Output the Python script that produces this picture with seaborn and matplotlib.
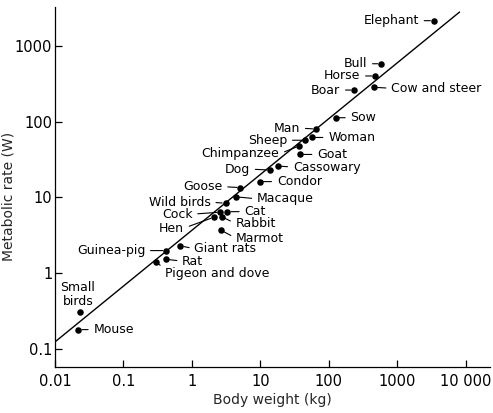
import matplotlib
matplotlib.use("Agg")
import matplotlib.pyplot as plt
import seaborn as sns
import pandas as pd

# --- Data ---
animals = ["Mouse", "Small birds", "Pigeon and dove", "Rat", "Guinea-pig",
           "Giant rats", "Hen", "Cock", "Rabbit", "Marmot", "Cat", "Wild birds",
           "Macaque", "Goose", "Condor", "Dog", "Cassowary", "Chimpanzee",
           "Goat", "Sheep", "Woman", "Man", "Sow", "Boar", "Cow and steer",
           "Horse", "Bull", "Elephant"]
body_weight = [0.022, 0.023, 0.30, 0.42, 0.42,
               0.68, 2.1, 2.6, 2.7, 2.65, 3.3, 3.1,
               4.4, 5.1, 9.8, 13.8, 18, 37,
               38, 45, 57, 65, 125, 234, 459,
               475, 580, 3410]
metabolic_rate = [0.18, 0.31, 1.39, 1.53, 1.99,
                  2.3, 5.5, 6.4, 5.6, 3.7, 6.5, 8.4,
                  10.2, 13.5, 16.2, 23, 26, 48,
                  37, 57, 62, 80, 113, 262, 285,
                  402, 583, 2160]
fit_weight = [0.01, 8100]
fit_rate = [0.124, 2810]

x_ticks = [0.01, 0.1, 1, 10, 100, 1000, 10000]
x_tick_labels = ["0.01", "0.1", "1", "10", "100", "1000", "10 000"]
y_ticks = [0.1, 1, 10, 100, 1000]
y_tick_labels = ["0.1", "1", "10", "100", "1000"]

# label placement: (dx, dy) in pixels from the dot, side of text, leader line
label_layout = {
    "Elephant": (-15, 0, "r", True),
    "Bull": (-14, 0, "r", True),
    "Horse": (-15, 0, "r", True),
    "Boar": (-14, 0, "r", True),
    "Cow and steer": (17, -1, "l", True),
    "Sow": (15, 0, "l", True),
    "Man": (-16, 1, "r", True),
    "Woman": (16, 0, "l", True),
    "Sheep": (-18, 0, "r", True),
    "Chimpanzee": (-20, -8, "r", True),
    "Goat": (17, 0, "l", True),
    "Cassowary": (15, -1, "l", True),
    "Dog": (-20, 1, "r", True),
    "Condor": (17, 0, "l", True),
    "Goose": (-18, 1, "r", True),
    "Macaque": (21, -2, "l", True),
    "Wild birds": (-15, 1, "r", True),
    "Cat": (17, 0, "l", True),
    "Cock": (-28, -2, "r", True),
    "Hen": (-30, -11, "r", True),
    "Rabbit": (14, -7, "l", True),
    "Marmot": (15, -8, "l", True),
    "Giant rats": (14, -3, "l", True),
    "Guinea-pig": (-21, 0, "r", True),
    "Rat": (16, -2, "l", True),
    "Pigeon and dove": (9, -11, "l", True),
    "Mouse": (15, 0, "l", True),
    "Small birds": (-2, 17, "c", False),
}
label_text = {"Small birds": "Small\nbirds"}

df = pd.DataFrame({"animal": animals, "weight": body_weight, "rate": metabolic_rate})
fit = pd.DataFrame({"weight": fit_weight, "rate": fit_rate})

sns.set_style("ticks")
plt.rcParams["font.family"] = ["DejaVu Sans"]

fig = plt.figure(figsize=(4.93, 4.13), dpi=100)
ax = fig.add_axes([0.1116, 0.1114, 0.882, 0.8717])

sns.lineplot(data=fit, x="weight", y="rate", ax=ax, color="black", lw=1.0)
sns.scatterplot(data=df, x="weight", y="rate", ax=ax, color="black",
                s=22, edgecolor="black", linewidth=0, zorder=3)

ax.set_xscale("log")
ax.set_yscale("log")
ax.set_xlim(0.01, 22400)
ax.set_ylim(0.0578, 3275)

for name, w, r in zip(animals, body_weight, metabolic_rate):
    dx, dy, side, leader = label_layout[name]
    ha = {"r": "right", "l": "left", "c": "center"}[side]
    relpos = {"r": (1, 0.5), "l": (0, 0.5), "c": (0.5, 0.5)}[side]
    if name == "Pigeon and dove":
        relpos = (0, 0.85)
    arrow = dict(arrowstyle="-", color="black", lw=0.8, shrinkA=1.5,
                 shrinkB=2.5, relpos=relpos) if leader else None
    ax.annotate(label_text.get(name, name), xy=(w, r), xytext=(dx, dy),
                textcoords="offset pixels", ha=ha, va="center", fontsize=9,
                color="black", arrowprops=arrow, linespacing=1.05)

ax.set_xticks(x_ticks)
ax.set_xticklabels(x_tick_labels)
ax.set_yticks(y_ticks)
ax.set_yticklabels(y_tick_labels)
ax.minorticks_off()
ax.tick_params(direction="in", length=5, width=0.9, labelsize=10.5, colors="black")
ax.tick_params(axis="y", pad=2)
ax.tick_params(axis="x", pad=5)

ax.set_xlabel("Body weight (kg)", fontsize=10, labelpad=3)
ax.set_ylabel("Metabolic rate (W)", fontsize=10)
ax.yaxis.set_label_coords(-0.092, 0.475)

sns.despine(ax=ax)
for sp in ["left", "bottom"]:
    ax.spines[sp].set_linewidth(0.9)
    ax.spines[sp].set_color("black")

fig.savefig("out.png", dpi=100, facecolor="white")
